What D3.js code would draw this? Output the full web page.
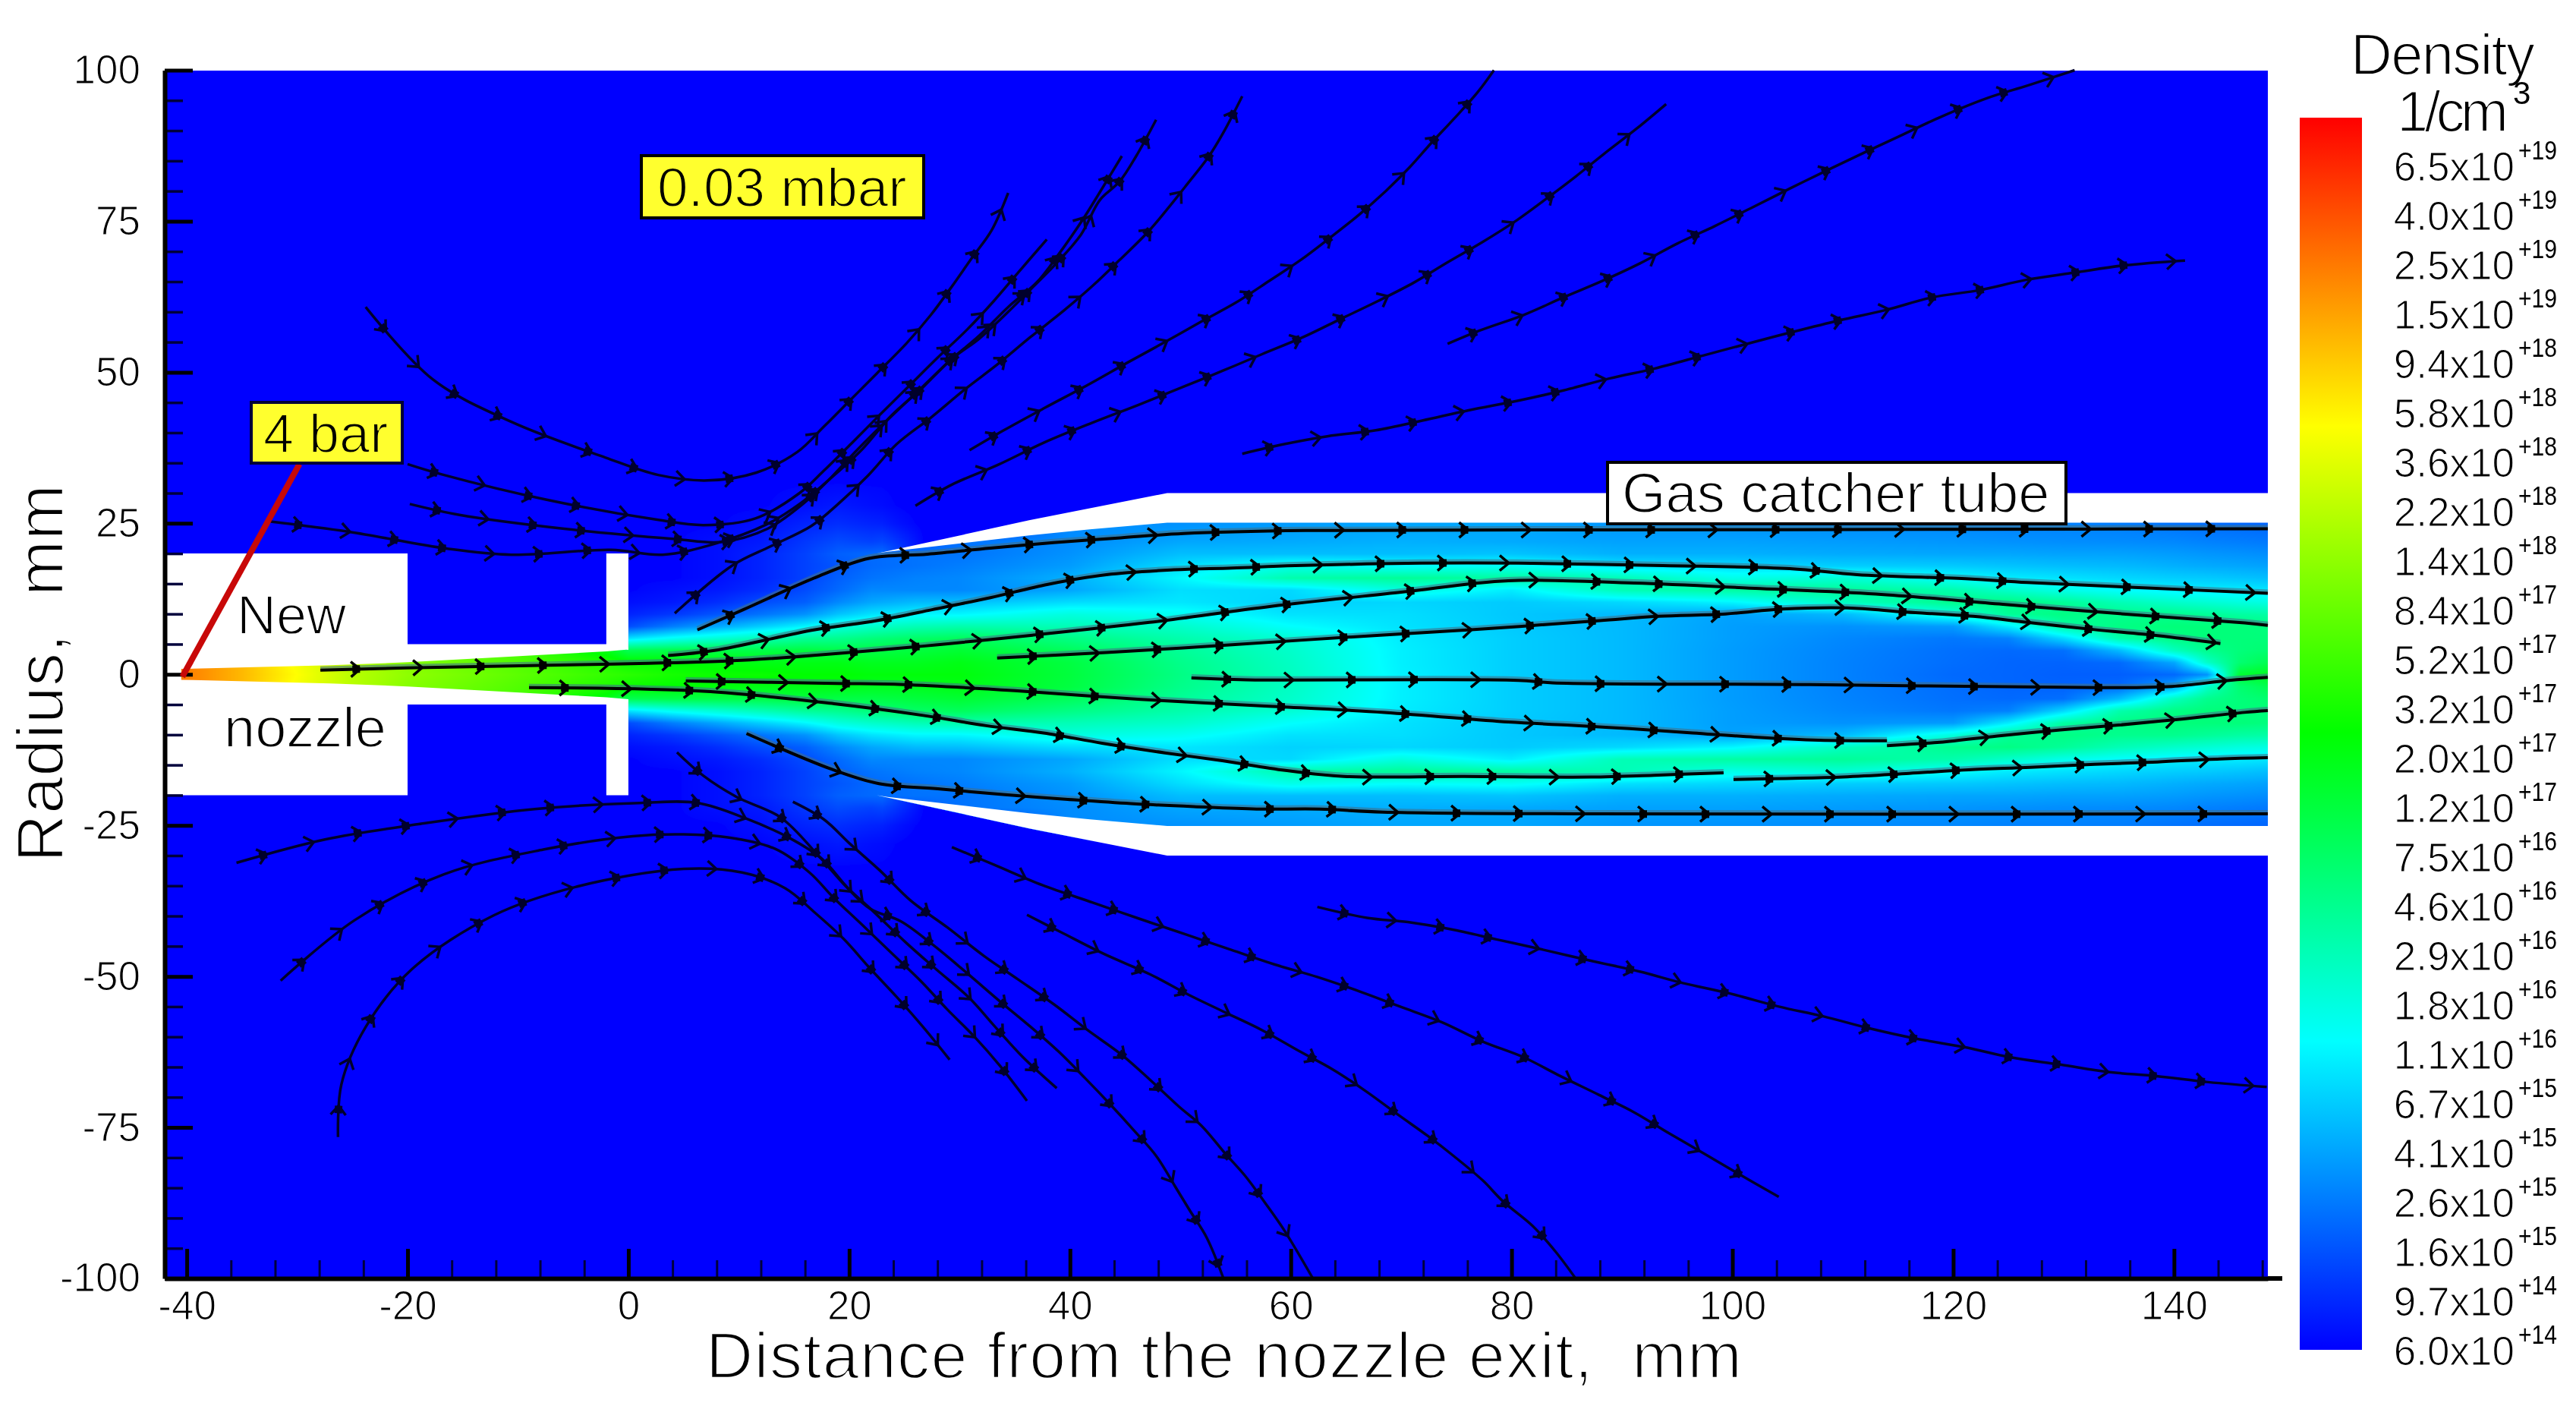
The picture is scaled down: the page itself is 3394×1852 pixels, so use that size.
<!DOCTYPE html>
<html lang="en">
<head>
<meta charset="UTF-8">
<title>Gas density, nozzle and gas catcher tube</title>
<style>
    html, body { margin: 0; padding: 0; background: #fff; overflow: hidden; }
    #field, #chart { position: absolute; left: 0; top: 0; }
    text { font-family: "Liberation Sans", Arial, sans-serif; fill: #000; }
</style>
</head>
<body>
<canvas id="field"></canvas>
<svg id="chart" width="3394" height="1852"></svg>
<script src="https://cdn.jsdelivr.net/npm/d3@7"></script>
<script>
    // axes
    const xMajor = [-40, -20, 0, 20, 40, 60, 80, 100, 120, 140];
    const yMajor = [-100, -75, -50, -25, 0, 25, 50, 75, 100];
    const xMinor = d3.range(-40, 149, 4);
    const yMinor = d3.range(-100, 101, 5);

    // colour bar
    const legendMantissa = ["6.5", "4.0", "2.5", "1.5", "9.4", "5.8", "3.6", "2.2", "1.4", "8.4", "5.2", "3.2", "2.0", "1.2", "7.5", "4.6", "2.9", "1.8", "1.1", "6.7", "4.1", "2.6", "1.6", "9.7", "6.0"];
    const legendExponent = [19, 19, 19, 19, 18, 18, 18, 18, 18, 17, 17, 17, 17, 17, 16, 16, 16, 16, 16, 15, 15, 15, 15, 14, 14];
    const colourLog = [14.78, 16.04, 17.3, 18.55, 19.81];
    const colourStops = ["#0000ff", "#00ffff", "#00ff00", "#ffff00", "#ff0000"];

    // log10(density), mirrored about r = 0
    const fieldR = [0, 2, 4, 6, 8, 10, 12, 14, 16, 18, 20, 22, 25, 28, 32];
    const fieldX = [-42, -35, -30, -25, -20, -10, -2, 0, 4, 8, 12, 16, 19, 22, 26, 30, 40, 50, 60, 70, 80, 90, 100, 110, 120, 125, 130, 135, 140, 143, 146, 148.5];
    const fieldLog = [
        [19.3, 19.3, 19.3, 14.8, 14.8, 14.8, 14.8, 14.8, 14.8, 14.8, 14.8, 14.8, 14.8, 14.8, 14.8],
        [18.9, 18.9, 18.9, 14.8, 14.8, 14.8, 14.8, 14.8, 14.8, 14.8, 14.8, 14.8, 14.8, 14.8, 14.8],
        [18.55, 18.5, 18.5, 14.8, 14.8, 14.8, 14.8, 14.8, 14.8, 14.8, 14.8, 14.8, 14.8, 14.8, 14.8],
        [18.2, 18.2, 18.2, 14.8, 14.8, 14.8, 14.8, 14.8, 14.8, 14.8, 14.8, 14.8, 14.8, 14.8, 14.8],
        [18.0, 17.95, 17.9, 14.8, 14.8, 14.8, 14.8, 14.8, 14.8, 14.8, 14.8, 14.8, 14.8, 14.8, 14.8],
        [17.75, 17.7, 17.65, 14.8, 14.8, 14.8, 14.8, 14.8, 14.8, 14.8, 14.8, 14.8, 14.8, 14.8, 14.8],
        [17.55, 17.45, 17.2, 14.8, 14.8, 14.8, 14.8, 14.8, 14.8, 14.8, 14.8, 14.8, 14.8, 14.8, 14.8],
        [17.5, 17.35, 16.9, 15.9, 15.15, 14.95, 14.85, 14.8, 14.8, 14.8, 14.8, 14.8, 14.8, 14.8, 14.8],
        [17.4, 17.3, 16.95, 16.1, 15.4, 15.05, 14.9, 14.85, 14.8, 14.8, 14.8, 14.8, 14.8, 14.8, 14.8],
        [17.35, 17.25, 16.95, 16.25, 15.6, 15.2, 15.0, 14.9, 14.85, 14.85, 14.85, 14.85, 14.8, 14.8, 14.8],
        [17.35, 17.2, 16.95, 16.4, 15.8, 15.35, 15.15, 15.0, 14.95, 14.95, 14.95, 14.9, 14.85, 14.8, 14.8],
        [17.3, 17.2, 17.0, 16.55, 16.0, 15.5, 15.25, 15.15, 15.1, 15.1, 15.1, 15.05, 14.95, 14.85, 14.8],
        [17.3, 17.2, 16.95, 16.6, 16.2, 15.75, 15.45, 15.3, 15.25, 15.2, 15.25, 15.15, 15.0, 14.9, 14.8],
        [17.25, 17.15, 16.95, 16.7, 16.3, 15.9, 15.6, 15.45, 15.35, 15.3, 15.3, 15.1, 14.95, 14.85, 14.8],
        [17.25, 17.15, 17.0, 16.8, 16.4, 16.0, 15.7, 15.45, 15.42, 15.35, 15.35, 15.2, 14.9, 14.8, 14.8],
        [17.25, 17.2, 17.05, 16.85, 16.45, 16.0, 15.72, 15.45, 15.45, 15.4, 15.35, 15.35, 14.85, 14.8, 14.8],
        [17.0, 16.98, 16.85, 16.65, 16.4, 16.2, 15.87, 15.6, 15.65, 15.55, 15.5, 15.47, 15.47, 14.8, 14.8],
        [16.65, 16.62, 16.55, 16.45, 16.3, 16.1, 15.92, 15.88, 16.0, 15.88, 15.72, 15.6, 15.5, 14.8, 14.8],
        [16.35, 16.33, 16.3, 16.25, 16.05, 15.9, 15.82, 15.85, 16.45, 16.15, 15.72, 15.62, 15.55, 14.8, 14.8],
        [15.98, 15.97, 15.97, 15.95, 15.9, 15.88, 15.84, 16.2, 16.55, 16.05, 15.72, 15.65, 15.6, 14.8, 14.8],
        [15.8, 15.8, 15.8, 15.8, 15.78, 15.77, 15.78, 15.95, 16.5, 16.1, 15.75, 15.62, 15.6, 14.8, 14.8],
        [15.7, 15.7, 15.7, 15.7, 15.7, 15.7, 15.85, 16.4, 16.4, 15.9, 15.65, 15.58, 15.52, 14.8, 14.8],
        [15.55, 15.55, 15.55, 15.56, 15.56, 15.58, 16.0, 16.5, 16.15, 15.85, 15.65, 15.58, 15.5, 14.8, 14.8],
        [15.42, 15.42, 15.43, 15.45, 15.5, 15.7, 16.35, 16.55, 16.25, 15.8, 15.62, 15.55, 15.47, 14.8, 14.8],
        [15.3, 15.32, 15.33, 15.37, 15.55, 16.2, 16.6, 16.45, 16.05, 15.78, 15.6, 15.52, 15.45, 14.8, 14.8],
        [15.28, 15.28, 15.3, 15.42, 15.95, 16.55, 16.65, 16.3, 15.95, 15.75, 15.6, 15.5, 15.42, 14.8, 14.8],
        [15.25, 15.27, 15.33, 15.85, 16.5, 16.65, 16.55, 16.15, 15.9, 15.72, 15.58, 15.48, 15.42, 14.8, 14.8],
        [15.25, 15.3, 15.7, 16.45, 16.65, 16.6, 16.4, 16.05, 15.85, 15.7, 15.58, 15.47, 15.4, 14.8, 14.8],
        [15.3, 15.6, 16.35, 16.65, 16.7, 16.6, 16.3, 15.98, 15.8, 15.65, 15.55, 15.45, 15.35, 14.8, 14.8],
        [15.5, 16.3, 16.6, 16.7, 16.7, 16.55, 16.25, 15.95, 15.78, 15.62, 15.52, 15.42, 15.32, 14.8, 14.8],
        [17.05, 16.75, 16.7, 16.7, 16.7, 16.5, 16.2, 15.95, 15.75, 15.6, 15.5, 15.4, 15.3, 14.8, 14.8],
        [17.15, 16.9, 16.75, 16.7, 16.68, 16.48, 16.18, 15.92, 15.72, 15.58, 15.48, 15.38, 15.28, 14.8, 14.8]
    ];

    // solid parts in mm
    const nozzleOutline = [[-42, 20], [-20, 20], [-20, 5], [-2, 5], [-2, 20], [0, 20], [0, -20], [-2, -20], [-2, -5], [-20, -5], [-20, -20], [-42, -20]];
    const jetEdge = [[-40.5, 0.9], [-38, 1], [-27, 1.5], [-20, 2], [-13, 2.7], [-8, 3.2], [-2, 3.8], [0, 4.1]];
    const tubeOuterX = [22.5, 36.3, 48.8, 148.5];
    const tubeOuterR = [20, 25.5, 30, 30];
    const tubeInnerX = [23.5, 36.3, 41.8, 48.8, 148.5];
    const tubeInnerR = [20.3, 23, 24, 25.1, 25.1];

    const pointerLine = [[-40.4, -0.4], [-29.8, 34.8]];

    // streamlines, [x mm, r mm]
    const tubeLines = [
        [[6.25, 7.35], [10.4, 10.7], [17.3, 16.3], [21.8, 19.2], [27.1, 19.9], [32.8, 20.9], [38.5, 21.8], [44.6, 22.6], [50.3, 23.3], [61.3, 23.8], [87.5, 23.9], [120, 24], [148.5, 24.1]],
        [[3.6, 3.1], [7.8, 3.96], [16.8, 7.35], [22.5, 8.9], [27.5, 10.7], [32.8, 12.7], [38, 14.9], [43.3, 16.5], [49.4, 17.3], [54.7, 17.6], [60.4, 18], [71.8, 18.4], [80.6, 18.4], [93.7, 18], [105.2, 17.5], [111.3, 16.5], [121.4, 15.8], [126.7, 15.2], [137.6, 14.3], [148.5, 13.4]],
        [[-27.9, 0.7], [-20, 1.07], [-4.3, 1.6], [1, 1.8], [11, 2.4], [25.6, 4.5], [36.7, 6.5], [47.2, 8.6], [58.2, 11.25], [70, 13.6], [79.7, 15.5], [91.1, 15.1], [102.5, 14.2], [113, 13.3], [124.5, 11.6], [135.4, 10], [146.4, 8.5], [148.5, 8.1]],
        [[33.4, 2.7], [43.3, 3.6], [54.7, 4.9], [65.6, 6.2], [76.6, 7.4], [88, 8.9], [93.3, 9.6], [99.4, 10], [104.5, 10.8], [110.4, 11], [115.7, 10.3], [121.8, 9.6], [126.7, 8.6], [132.8, 7.4], [138.5, 6.4], [144.2, 5.1]],
        [[51, -0.6], [56, -0.9], [80.6, -1], [83.7, -1.4], [107, -1.7], [133.2, -2.2], [139.8, -2], [145, -1], [148.5, -0.5]],
        [[5.2, -1.1], [18.8, -1.5], [24.9, -1.7], [35, -2.7], [46.4, -4.15], [57.3, -5.2], [68.5, -6.3], [79.7, -7.9], [85, -8.4], [90.7, -9], [96.4, -9.7], [102, -10.4], [107.8, -10.9], [114, -11]],
        [[114, -11.8], [118.8, -11.25], [124, -10.2], [129.7, -9.2], [135, -8.4], [140.7, -7.4], [146.4, -6.3], [148.5, -6]],
        [[-9, -2.2], [6.8, -2.8], [18.8, -4.9], [26.7, -6.8], [32.4, -8.5], [37.6, -9.7], [42.9, -11.4], [48.6, -13], [53.8, -14.3], [59.5, -15.9], [64.8, -16.9], [75.7, -16.9], [87.2, -17], [92.9, -16.7], [99.2, -16.3]],
        [[100.1, -17.4], [110, -17], [116, -16.4], [121.4, -15.8], [127, -15.4], [132.8, -14.9], [138.5, -14.5], [144.2, -14], [148.5, -13.8]],
        [[10.7, -9.8], [18.4, -15.7], [22.7, -18.1], [28.4, -19], [33.9, -19.9], [39.8, -20.7], [45.5, -21.4], [51.2, -21.9], [56.9, -22.3], [62.6, -22.3], [68.3, -22.8], [87.5, -23.1], [148.5, -23.1]]
    ];
    const outerLines = [
        [[-23.8, 60.8], [-17.7, 48.8], [-10.6, 41.8], [-2.1, 35.9], [2.7, 33], [7.2, 32.1], [11.6, 33.4], [15.3, 36.8], [17.7, 41], [20.1, 45.4], [22.5, 49.8], [25.2, 54.8], [27.4, 59.5], [29.3, 64.2], [31.1, 68.9], [32.9, 73.5], [34.4, 79.7]],
        [[-20, 34.8], [-16.9, 33.1], [-7.4, 28.9], [2.6, 25.6], [6.8, 24.7], [11.5, 25.8], [15.5, 30], [17.7, 33.7], [20.3, 38.4], [22.8, 43], [25.4, 47.7], [28, 52.4], [30.7, 57.1], [33.1, 61.8], [35.3, 66.5], [37.9, 72]],
        [[-19.8, 28.2], [-15.3, 26.4], [-5.8, 24.1], [4.2, 22.4], [8.4, 21.9], [12.6, 24.1], [16, 28.5], [18.1, 32.1], [20.8, 37.3], [23.4, 42], [26.7, 47.7], [29.1, 51.9], [31.8, 56.1], [34.4, 60.8], [37, 64.9], [39, 69.6], [41.2, 75.4], [42.7, 79.8], [44.7, 85.8]],
        [[-32.4, 25.3], [-25.3, 23.6], [-16.4, 20.8], [-10.6, 19.8], [-1.6, 20.6], [3.1, 19.8], [7.8, 21.6], [12.5, 24.8], [15.5, 28.2], [18.6, 32.9], [21.2, 37.3], [23.8, 42.8], [26.5, 47.2], [29.3, 52.2], [31.8, 55.6], [34.4, 60], [36.8, 64.4], [38.8, 68.1], [41, 72.8], [42.7, 78.5], [44.5, 81.6], [46, 85.8], [47.8, 91.8]],
        [[4.2, 10.1], [9.4, 18], [12.9, 21.2], [16.6, 24.6], [19, 28.2], [21.7, 32.9], [24.3, 38.1], [27.4, 42.5], [30.5, 47.2], [33.5, 51.4], [36.4, 55.8], [39.5, 60.3], [42.1, 64.4], [44.5, 68.6], [47.1, 73.3], [48.9, 77.2], [50.6, 81.1], [52.6, 85.8], [53.9, 89.7], [55.6, 95.7]],
        [[30.9, 37.1], [34, 40.4], [37.7, 44.1], [41.4, 47.7], [45.3, 51.7], [48.6, 55], [51.9, 58.4], [55, 61.5], [58.1, 65.2], [60.9, 68.6], [63.5, 72.2], [66.2, 76.1], [68.6, 80], [70.8, 84], [72.7, 87.9], [74.8, 92], [76.9, 96.3], [78.4, 100]],
        [[26, 27.9], [29.3, 31.4], [33.5, 34.7], [37.7, 38.4], [42.1, 41.7], [46.2, 44.6], [50.4, 47.7], [53.9, 50.3], [57.4, 53], [61.1, 55.8], [64.6, 58.9], [67.9, 61.8], [71.1, 64.8], [74.2, 68.2], [77.4, 71.6], [80.5, 75.2], [83.2, 78.8], [85.8, 82.4], [88.4, 86.2], [91.3, 90.3], [94, 94.4]],
        [[55.6, 36.5], [59.4, 38.1], [63.3, 39.4], [67.7, 40.4], [71.9, 42], [76.1, 43.7], [80.6, 45.3], [84.7, 47], [88.9, 49], [92.9, 50.6], [97.4, 52.8], [101.3, 54.7], [105.5, 56.7], [109.7, 58.6], [113.9, 60.3], [118.1, 62.4], [122.4, 63.6], [126.6, 65.3], [131, 66.5], [135.5, 67.7], [141, 68.5]],
        [[74.2, 54.7], [77.1, 56.9], [81.1, 59.5], [84.7, 62.4], [88.2, 65.1], [91.6, 68], [95, 71.3], [98.4, 74.2], [101.6, 77.1], [105.3, 80.5], [109, 83.8], [112.1, 86.5], [115.5, 89.4], [118.9, 92.3], [123.1, 95.4], [126.8, 97.5], [131, 100]],
        [[-35.5, -31.2], [-27.4, -27.3], [-19, -24.8], [-8.5, -22.3], [1, -21.3], [6.3, -21.3], [10.7, -23.9], [14.6, -27.1], [17.5, -30.5], [19.9, -35.4], [22.1, -39.1], [25.2, -44.5], [27.8, -48.7], [30.9, -53.6], [33.1, -58.1], [35.7, -63.3], [38.8, -68.5]],
        [[-31.5, -50.7], [-24.8, -40.7], [-16.7, -33.1], [-7.7, -29], [0.4, -26.8], [5, -26.5], [9, -27], [13.3, -28.9], [16.4, -32.8], [18.6, -37], [21.2, -41.5], [24.1, -46.6], [26.5, -50.8], [28.9, -55.5], [31.3, -59.9], [33.7, -64.9], [36.1, -70.6]],
        [[-26.3, -76.6], [-26, -67.9], [-23.8, -58.4], [-19.6, -48.8], [-12.2, -39.9], [-4.8, -35.2], [5, -32.2], [10.3, -32.8], [14.2, -35.4], [16.8, -39.3], [19.5, -43.8], [21.9, -48.7], [24.3, -53.4], [26.7, -58.4], [29.1, -63.8]],
        [[4.4, -12.9], [6.8, -16.8], [9.8, -20.3], [13.8, -23.7], [17.3, -30.2], [19.7, -35.1], [21.9, -38.8], [24.7, -40.9], [27.6, -44.8], [30.7, -49.5], [33.7, -54.2], [36.4, -58.3], [39, -62.5], [41.4, -66.9], [43.6, -71.1], [45.8, -75.5], [47.8, -79.7], [49.5, -84.7], [50.8, -88.6], [52.4, -93.3], [53.9, -100]],
        [[14.9, -21.1], [17.7, -24], [20.1, -28.1], [22.8, -32.5], [25.6, -37.5], [28.9, -41.9], [32.2, -46.6], [35.3, -50.5], [38.6, -54.7], [41.6, -58.9], [44.7, -63], [47.3, -67.2], [49.9, -71.6], [51.9, -74.7], [54.1, -79.4], [55.9, -83.1], [57.6, -87.3], [59.4, -92], [62, -100]],
        [[29.3, -28.6], [33.1, -31.5], [37.5, -34.9], [42.1, -37.8], [46.2, -40.4], [50.4, -43], [54.6, -45.6], [58.5, -48], [62.4, -50.1], [66.4, -52.6], [69.9, -55], [73.7, -57.6], [77.4, -60.8], [81.1, -63.4], [84.2, -66.3], [87.9, -69.6], [91.1, -72.5], [94.2, -75.9], [97.4, -79.3], [100.3, -82.4], [104.2, -86.5]],
        [[36.1, -39.8], [39.2, -42.7], [43.1, -46.3], [47.3, -49.7], [50.8, -53.1], [54.1, -56], [57.4, -58.9], [60.7, -62.3], [63.8, -65.4], [66.8, -69], [69.8, -73], [72.4, -76.4], [74.8, -79.8], [77.4, -83.8], [79.2, -87.2], [81.9, -91.3], [84, -95.6], [85.8, -100]],
        [[62.4, -38.5], [66.9, -40.3], [70.6, -41], [74.5, -42.2], [78.7, -43.9], [82.9, -45.6], [87.4, -47.5], [91.6, -49.2], [95.5, -51.1], [99.7, -52.8], [104.2, -55], [108.2, -56.6], [112.4, -58.6], [116.6, -60.3], [121, -61.7], [125.2, -63.4], [129.7, -64.6], [133.9, -65.8], [138.4, -66.5], [143.1, -67.5], [148.4, -68.3]]
    ];

    const W = 3394, H = 1852;
    const plotLeft = 217, plotRight = 2988, plotTop = 92.5, plotBottom = 1684;

    const x = d3.scaleLinear().domain([-42, 148.5]).range([plotLeft, plotRight]);
    const y = d3.scaleLinear().domain([-100, 100]).range([plotBottom, plotTop]);
    const colour = d3.scaleLinear().domain(colourLog).range(colourStops).clamp(true);

    const svg = d3.select("#chart");

    drawField();
    drawSolids();
    drawStreamlines(tubeLines, 82, "#000", 4, 3.5, true);
    drawStreamlines(outerLines, 64, "#00002c", 3.5, 3.5, false);
    drawAxes();
    drawLegend();
    drawLabels();

    // the picture's lettering is thinner than Liberation, so trim the glyphs with a stroke of the background
    function thin(sel, width, bg) {
        return sel.style("stroke", bg || "#fff").style("stroke-width", width);
    }

    function drawField() {
        const canvas = d3.select("#field").attr("width", W).attr("height", H).node();
        const ctx = canvas.getContext("2d");
        ctx.fillStyle = "#fff";
        ctx.fillRect(0, 0, W, H);
        const w = plotRight - plotLeft, h = Math.round(plotBottom - plotTop);
        const img = ctx.createImageData(w, h);

        // colour lookup so the loop below stays cheap
        const lutMin = 14.78, lutMax = 19.81, lutN = 2048;
        const lut = d3.range(lutN).map(i => d3.rgb(colour(lutMin + (lutMax - lutMin) * i / (lutN - 1))));
        const outerWall = d3.scaleLinear().domain(tubeOuterX).range(tubeOuterR);

        const colIdx = d3.range(w).map(i => {
            const v = x.invert(plotLeft + i + 0.5);
            const k = Math.min(d3.bisectRight(fieldX, v), fieldX.length - 1);
            return {v, k, f: (v - fieldX[k - 1]) / (fieldX[k] - fieldX[k - 1])};
        });
        const rowIdx = d3.range(h).map(j => {
            const v = Math.abs(y.invert(plotTop + j + 0.5));
            const k = Math.min(d3.bisectRight(fieldR, v), fieldR.length - 1);
            return {v, k, f: Math.min(1, (v - fieldR[k - 1]) / (fieldR[k] - fieldR[k - 1]))};
        });

        let p = 0;
        for (let j = 0; j < h; j++) {
            const row = rowIdx[j];
            for (let i = 0; i < w; i++) {
                const col = colIdx[i];
                const a = fieldLog[col.k - 1], b = fieldLog[col.k];
                const v0 = a[row.k - 1] + (a[row.k] - a[row.k - 1]) * row.f;
                const v1 = b[row.k - 1] + (b[row.k] - b[row.k - 1]) * row.f;
                let val = v0 + (v1 - v0) * col.f;
                // outside the tube wall the glow at the tip dies away quickly
                if (col.v > 23 && row.v > outerWall(col.v)) {
                    val = lutMin + (val - lutMin) * Math.max(0, (27 - col.v) / 4);
                }
                if (col.v < 0 && row.v > 4.5) val = lutMin;
                if (val < 14.81) val = lutMin;
                const c = lut[Math.max(0, Math.min(lutN - 1, Math.round((val - lutMin) / (lutMax - lutMin) * (lutN - 1))))];
                img.data[p++] = c.r;
                img.data[p++] = c.g;
                img.data[p++] = c.b;
                img.data[p++] = 255;
            }
        }
        ctx.putImageData(img, plotLeft, Math.round(plotTop));
    }

    function drawSolids() {
        const line = d3.line().x(d => x(d[0])).y(d => y(d[1]));

        // nozzle body with the open jet channel cut out of it
        const jetHole = jetEdge.concat(jetEdge.slice().reverse().map(d => [d[0], -d[1]]));
        svg.append("path")
            .attr("d", line(nozzleOutline) + "Z" + line(jetHole) + "Z")
            .attr("fill", "#fff")
            .attr("fill-rule", "evenodd");

        // gas catcher tube wall, top and bottom
        [1, -1].forEach(sign => {
            const outer = tubeOuterX.map((v, i) => [v, sign * tubeOuterR[i]]);
            const inner = tubeInnerX.map((v, i) => [v, sign * tubeInnerR[i]]).reverse();
            svg.append("path")
                .attr("d", line(outer.concat(inner)) + "Z")
                .attr("fill", "#fff");
        });
    }

    function drawStreamlines(lines, spacing, stroke, width, arrowWidth, halo) {
        const line = d3.line().x(d => x(d[0])).y(d => y(d[1])).curve(d3.curveCatmullRom);
        const g = svg.append("g").attr("fill", "none");

        if (halo) {
            g.selectAll("path.halo")
                .data(lines)
                .enter().append("path")
                .attr("class", "halo")
                .attr("d", line)
                .attr("transform", "translate(0,-2)")
                .attr("stroke", "#3f6f88")
                .attr("stroke-opacity", 0.6)
                .attr("stroke-width", 6);
        }

        const paths = g.selectAll("path.stream")
            .data(lines)
            .enter().append("path")
            .attr("class", "stream")
            .attr("d", line)
            .attr("stroke", stroke)
            .attr("stroke-width", width);

        paths.each(function () {
            const len = this.getTotalLength();
            let n = 0;
            for (let s = spacing * 0.6; s < len - 8; s += spacing) {
                const a = this.getPointAtLength(s - 4), b = this.getPointAtLength(s + 4);
                const angle = Math.atan2(b.y - a.y, b.x - a.x) * 180 / Math.PI;
                const c = this.getPointAtLength(s);
                const head = g.append("g")
                    .attr("transform", `translate(${c.x},${c.y}) rotate(${angle})`);
                head.append("path")
                    .attr("d", "M-9,-10L3,0L-9,10")
                    .attr("stroke", stroke)
                    .attr("stroke-width", arrowWidth);
                // most heads clog up into a small black blob, about one in three stays open
                if (n++ % 3 !== 1) {
                    head.append("rect")
                        .attr("x", -7).attr("y", -5)
                        .attr("width", 10).attr("height", 10)
                        .attr("fill", stroke);
                }
            }
        });
    }

    function drawAxes() {
        const fmt = d => String(d);

        // minor ticks first, majors carry the labels
        svg.append("g")
            .attr("transform", `translate(${plotLeft},0)`)
            .call(d3.axisLeft(y).tickValues(yMinor).tickSizeInner(-24).tickSizeOuter(0).tickFormat(""))
            .call(g => g.select(".domain").remove())
            .call(g => g.selectAll(".tick line").attr("stroke", "#00003c").attr("stroke-width", 3.5));
        svg.append("g")
            .attr("transform", `translate(0,${plotBottom})`)
            .call(d3.axisBottom(x).tickValues(xMinor).tickSizeInner(-24).tickSizeOuter(0).tickFormat(""))
            .call(g => g.select(".domain").remove())
            .call(g => g.selectAll(".tick line").attr("stroke", "#00003c").attr("stroke-width", 3));

        const yAxis = svg.append("g")
            .attr("transform", `translate(${plotLeft},0)`)
            .call(d3.axisLeft(y).tickValues(yMajor).tickSizeInner(-37).tickSizeOuter(0).tickPadding(32).tickFormat(fmt));
        const xAxis = svg.append("g")
            .attr("transform", `translate(0,${plotBottom})`)
            .call(d3.axisBottom(x).tickValues(xMajor).tickSizeInner(-39).tickSizeOuter(0).tickPadding(16).tickFormat(fmt));

        [yAxis, xAxis].forEach(g => {
            thin(g.selectAll("text").attr("font-size", 53).attr("font-family", "Liberation Sans").attr("fill", "#000"), 1.2);
            g.selectAll(".tick line").attr("stroke", "#000").attr("stroke-width", 5);
            g.select(".domain").attr("stroke", "#000").attr("stroke-width", 6);
        });

        // bottom axis runs a little past the plot
        svg.append("line")
            .attr("x1", plotRight).attr("x2", 3007)
            .attr("y1", plotBottom).attr("y2", plotBottom)
            .attr("stroke", "#000").attr("stroke-width", 6);

        thin(svg.append("text")
            .attr("x", 930).attr("y", 1815)
            .attr("font-size", 86)
            .attr("textLength", 1365)
            .style("white-space", "pre")
            .text("Distance from the nozzle exit,  mm"), 2.4);

        thin(svg.append("text")
            .attr("transform", "translate(83,887) rotate(-90)")
            .attr("text-anchor", "middle")
            .attr("font-size", 88)
            .attr("textLength", 498)
            .style("white-space", "pre")
            .text("Radius,  mm"), 2.4);
    }

    function drawLegend() {
        const barTop = 155, barBottom = 1778;
        const grad = svg.append("defs").append("linearGradient")
            .attr("id", "bar")
            .attr("x1", 0).attr("x2", 0).attr("y1", 1).attr("y2", 0);
        colourLog.forEach((v, i) => {
            grad.append("stop")
                .attr("offset", (v - colourLog[0]) / (colourLog[4] - colourLog[0]))
                .attr("stop-color", colourStops[i]);
        });
        svg.append("rect")
            .attr("x", 3030).attr("y", barTop)
            .attr("width", 82).attr("height", barBottom - barTop)
            .attr("fill", "url(#bar)");

        const labelY = d3.scaleLinear().domain([0, legendMantissa.length - 1]).range([238, 1798]);

        thin(svg.selectAll("text.mant")
            .data(legendMantissa)
            .enter().append("text")
            .attr("class", "mant")
            .attr("x", 3313).attr("y", (d, i) => labelY(i))
            .attr("text-anchor", "end")
            .attr("font-size", 53)
            .text(d => d + "x10"), 1.2);
        svg.selectAll("text.expo")
            .data(legendExponent)
            .enter().append("text")
            .attr("class", "expo")
            .attr("x", 3318).attr("y", (d, i) => labelY(i) - 28)
            .attr("font-size", 35)
            .attr("textLength", 51)
            .attr("lengthAdjust", "spacingAndGlyphs")
            .text(d => "+" + d);

        thin(svg.append("text").attr("x", 3097).attr("y", 98).attr("font-size", 76).attr("textLength", 243).text("Density"), 2);
        thin(svg.append("text").attr("x", 3158).attr("y", 173).attr("font-size", 76).attr("textLength", 147).text("1/cm"), 2);
        svg.append("text").attr("x", 3311).attr("y", 137).attr("font-size", 42).text("3");
    }

    function drawLabels() {
        // red pointer goes behind the 4 bar box
        const line = d3.line().x(d => x(d[0])).y(d => y(d[1]));
        svg.append("path")
            .attr("d", line(pointerLine))
            .attr("fill", "none")
            .attr("stroke", "#c80808")
            .attr("stroke-width", 8);

        const box = (bx, by, bw, bh, fill, stroke) => svg.append("rect")
            .attr("x", bx).attr("y", by).attr("width", bw).attr("height", bh)
            .attr("fill", fill).attr("stroke", stroke).attr("stroke-width", 4);
        const label = (t, lx, ly, size, bg) => thin(svg.append("text")
            .attr("x", lx).attr("y", ly).attr("font-size", size).text(t), 1.8, bg);

        box(845, 205, 372, 82, "#ffff2e", "#000");
        label("0.03 mbar", 866, 272, 73, "#ffff2e");

        box(331, 530, 199, 80, "#ffff2e", "#000038");
        label("4 bar", 347, 596, 72, "#ffff2e");

        box(2118, 609, 604, 81, "#fff", "#000");
        label("Gas catcher tube", 2137, 675, 74);

        label("New", 312, 835, 72);
        label("nozzle", 295, 984, 74);
    }
</script>
</body>
</html>
